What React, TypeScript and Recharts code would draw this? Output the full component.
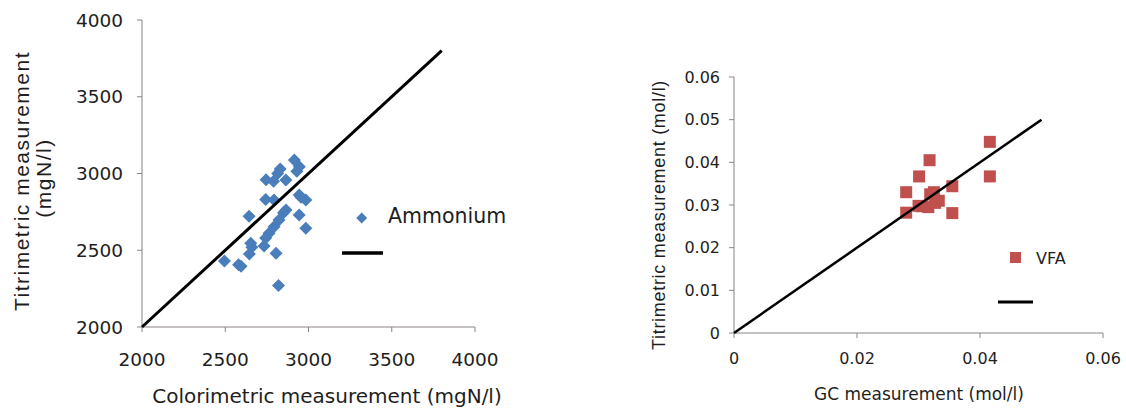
import { ScatterChart, Scatter, XAxis, YAxis } from "recharts";

// Ammonium: colorimetric vs titrimetric (mgN/l)
const ammoniumColorimetric = [2495, 2580, 2595, 2643, 2645, 2653, 2660, 2733, 2743, 2763, 2793, 2823, 2805, 2820, 2743, 2793, 2745, 2790, 2815, 2830, 2864, 2865, 2850, 2915, 2930, 2945, 2944, 2984, 2944, 2984, 2955];
const ammoniumTitrimetric = [2430, 2405, 2395, 2722, 2475, 2545, 2520, 2528, 2580, 2610, 2653, 2697, 2480, 2270, 2830, 2827, 2960, 2950, 3000, 3030, 2958, 2762, 2745, 3088, 3015, 3044, 2860, 2827, 2730, 2643, 2845];
const ammoniumLineX = [2000, 3800];
const ammoniumLineY = [2000, 3800];
const ammoniumTicks = [2000, 2500, 3000, 3500, 4000];

// VFA: GC vs titrimetric (mol/l)
const vfaGC = [0.028, 0.028, 0.0301, 0.0318, 0.03, 0.0306, 0.0316, 0.0319, 0.0325, 0.0327, 0.0333, 0.0355, 0.0355, 0.0416, 0.0416];
const vfaTitrimetric = [0.033, 0.0282, 0.0367, 0.0405, 0.0298, 0.0297, 0.0295, 0.0325, 0.033, 0.0305, 0.031, 0.0344, 0.0281, 0.0448, 0.0367];
const vfaLineX = [0, 0.05];
const vfaLineY = [0, 0.05];
const vfaXTicks = [0, 0.02, 0.04, 0.06];
const vfaYTicks = [0, 0.01, 0.02, 0.03, 0.04, 0.05, 0.06];

const BLUE = "#4a7ebb";
const RED = "#c0504d";
const AXIS = "#8c8484";
const TEXT = "#1e1e1e";

const ammoniumData = ammoniumColorimetric.map((x, i) => ({ x, y: ammoniumTitrimetric[i] }));
const ammoniumLine = ammoniumLineX.map((x, i) => ({ x, y: ammoniumLineY[i] }));
const vfaData = vfaGC.map((x, i) => ({ x, y: vfaTitrimetric[i] }));
const vfaLine = vfaLineX.map((x, i) => ({ x, y: vfaLineY[i] }));

const Diamond = (p: any) => {
    const r = 6.5;
    const { cx, cy } = p;
    return <polygon points={`${cx},${cy - r} ${cx + r},${cy} ${cx},${cy + r} ${cx - r},${cy}`} fill={BLUE} />;
};

const Square = (p: any) => <rect x={p.cx - 6} y={p.cy - 6} width={12} height={12} fill={RED} />;

const NoDot = () => <g />;

export default function App() {
    return (
        <div style={{ position: "absolute", left: 0, top: 0, width: 1126, height: 409, background: "#fff" }}>
            <div style={{ position: "absolute", left: 0, top: 0 }}>
                <ScatterChart width={560} height={409} margin={{ top: 20, right: 85, left: 0, bottom: 0 }}>
                    <XAxis
                        type="number"
                        dataKey="x"
                        domain={[2000, 4000]}
                        ticks={ammoniumTicks}
                        height={82}
                        tickSize={5}
                        tickMargin={21}
                        stroke={AXIS}
                        tick={{ fill: TEXT, fontSize: 18.5, fontFamily: "DejaVu Sans" }}
                        label={() => (
                            <text x={327} y={403} textAnchor="middle" fill={TEXT} fontSize={20} fontFamily="DejaVu Sans">
                                Colorimetric measurement (mgN/l)
                            </text>
                        )}
                    />
                    <YAxis
                        type="number"
                        dataKey="y"
                        domain={[2000, 4000]}
                        ticks={ammoniumTicks}
                        width={142}
                        tickSize={5}
                        tickMargin={14}
                        stroke={AXIS}
                        tick={{ fill: TEXT, fontSize: 18.5, fontFamily: "DejaVu Sans" }}
                        label={() => (
                            <g fill={TEXT} fontSize={21} fontFamily="Liberation Sans" letterSpacing={1.5} textAnchor="middle">
                                <text x={21} y={181} transform="rotate(-90 21 181)" dominantBaseline="central">
                                    Titrimetric measurement
                                </text>
                                <text x={43} y={178} transform="rotate(-90 43 178)" dominantBaseline="central">
                                    (mgN/l)
                                </text>
                            </g>
                        )}
                    />
                    <Scatter data={ammoniumData} shape={Diamond} isAnimationActive={false} />
                    <Scatter data={ammoniumLine} shape={NoDot} line={{ stroke: "#000", strokeWidth: 3 }} isAnimationActive={false} />
                </ScatterChart>
                <svg width={200} height={80} style={{ position: "absolute", left: 330, top: 195 }}>
                    <polygon points="31.7,17.5 37.2,23 31.7,28.5 26.2,23" fill={BLUE} />
                    <text x={58} y={28} fill={TEXT} fontSize={20.5} fontFamily="DejaVu Sans">Ammonium</text>
                    <line x1={12} y1={58} x2={53} y2={58} stroke="#000" strokeWidth={3.5} />
                </svg>
            </div>
            <div style={{ position: "absolute", left: 600, top: 0 }}>
                <ScatterChart width={526} height={409} margin={{ top: 77, right: 23, left: 0, bottom: 0 }}>
                    <XAxis
                        type="number"
                        dataKey="x"
                        domain={[0, 0.06]}
                        ticks={vfaXTicks}
                        height={76}
                        tickSize={5}
                        tickMargin={15}
                        stroke={AXIS}
                        tick={{ fill: TEXT, fontSize: 16, fontFamily: "DejaVu Sans" }}
                        label={() => (
                            <text x={319} y={400} textAnchor="middle" fill={TEXT} fontSize={17} fontFamily="DejaVu Sans">
                                GC measurement (mol/l)
                            </text>
                        )}
                    />
                    <YAxis
                        type="number"
                        dataKey="y"
                        domain={[0, 0.06]}
                        ticks={vfaYTicks}
                        width={134}
                        tickSize={5}
                        tickMargin={9}
                        stroke={AXIS}
                        tick={{ fill: TEXT, fontSize: 16, fontFamily: "DejaVu Sans" }}
                        label={() => (
                            <text x={59} y={215} transform="rotate(-90 59 215)" textAnchor="middle" dominantBaseline="central" fill={TEXT} fontSize={18} letterSpacing={0.7} fontFamily="Liberation Sans">
                                Titrimetric measurement (mol/l)
                            </text>
                        )}
                    />
                    <Scatter data={vfaData} shape={Square} isAnimationActive={false} />
                    <Scatter data={vfaLine} shape={NoDot} line={{ stroke: "#000", strokeWidth: 2.5 }} isAnimationActive={false} />
                </ScatterChart>
                <svg width={120} height={80} style={{ position: "absolute", left: 390, top: 240 }}>
                    <rect x={20} y={12} width={11} height={11} fill={RED} />
                    <text x={46} y={24} fill={TEXT} fontSize={16} fontFamily="DejaVu Sans">VFA</text>
                    <line x1={8} y1={62} x2={43} y2={62} stroke="#000" strokeWidth={3} />
                </svg>
            </div>
        </div>
    );
}
